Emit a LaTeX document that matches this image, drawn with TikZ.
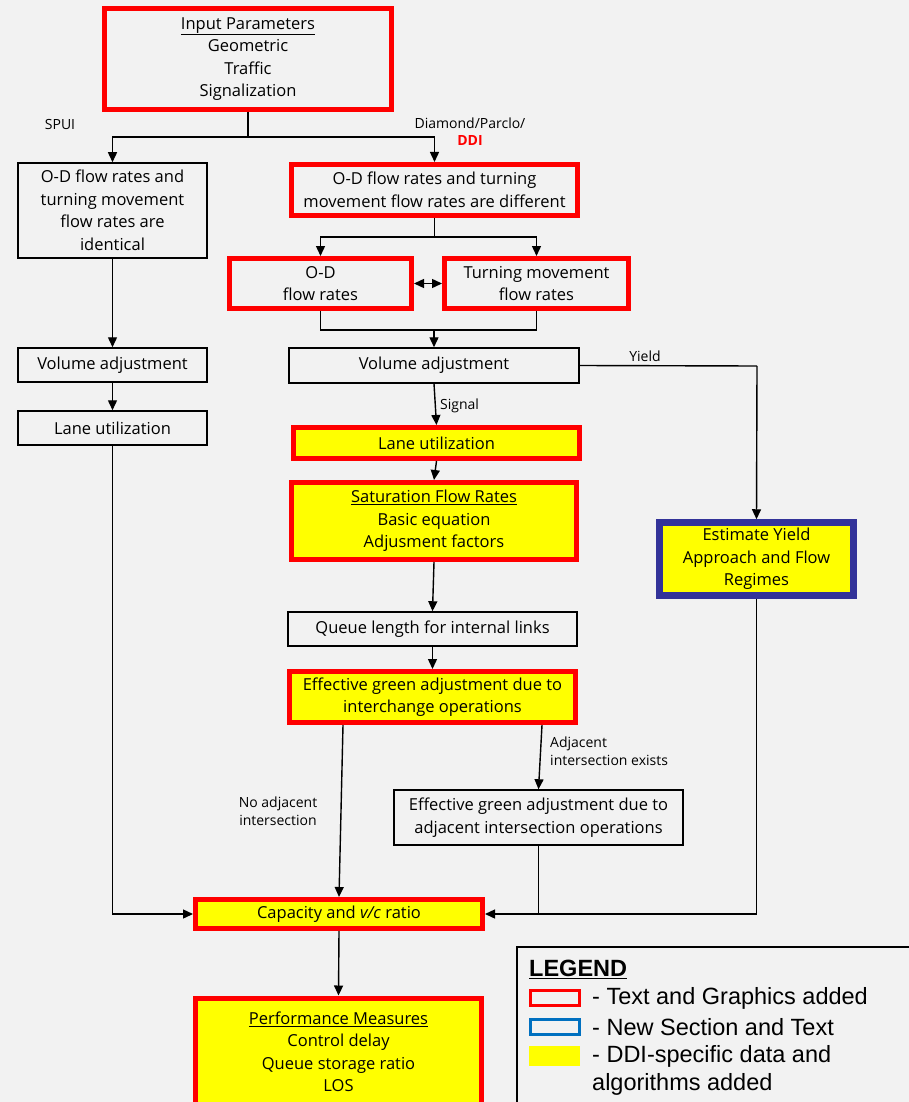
\documentclass[tikz,border=0pt]{standalone}
\usepackage{fontspec}
\setmainfont{Open Sans}
\newfontfamily\arialf{Liberation Sans}
\usetikzlibrary{arrows.meta,calc}
\definecolor{bg}{HTML}{F2F2F2}
\definecolor{ddired}{HTML}{FF0000}
\definecolor{ddiyel}{HTML}{FFFF00}
\definecolor{ddiblue}{HTML}{333399}
\definecolor{legblue}{HTML}{0070C0}
\begin{document}
\begin{tikzpicture}[x=1pt,y=-1pt,
  txt/.style={font=\fontsize{16.5}{22.5}\selectfont, align=center, inner sep=0pt},
  plainbox/.style={txt, draw=black, line width=1.5pt},
  redbox/.style={txt, draw=ddired, line width=5pt},
  yelbox/.style={redbox, fill=ddiyel},
  bluebox/.style={txt, draw=ddiblue, line width=6.5pt, fill=ddiyel},
  lbl/.style={font=\fontsize{14}{18}\selectfont, align=center, inner sep=0pt},
  conn/.style={line width=1.4pt, draw=black},
  arr/.style={conn, -{Triangle[width=9pt,length=10pt]}},
  darr/.style={conn, {Triangle[width=9pt,length=10pt]}-{Triangle[width=9pt,length=10pt]}},
  legtxt/.style={font=\arialf\fontsize{23.5}{29}\selectfont, anchor=west, inner sep=0pt}
]
\fill[bg] (0,0) rectangle (909,1102);
\useasboundingbox (0,0) rectangle (909,1102);

% boxes
\node[redbox, minimum width=287pt, minimum height=101pt] (inp) at (248,59)
  {\underline{Input Parameters}\\Geometric\\Traffic\\Signalization};
\node[plainbox, minimum width=189pt, minimum height=95pt] (odl) at (112.5,210.5)
  {O-D flow rates and\\turning movement\\flow rates are\\identical};
\node[redbox, minimum width=286pt, minimum height=51pt] (odr) at (434.5,190)
  {O-D flow rates and turning\\movement flow rates are different};
\node[redbox, minimum width=182pt, minimum height=50pt] (od) at (320.5,283.5)
  {O-D\\flow rates};
\node[redbox, minimum width=184pt, minimum height=50pt] (tm) at (536.5,283.5)
  {Turning movement\\flow rates};
\node[plainbox, minimum width=290pt, minimum height=35pt] (vol) at (434,365.5)
  {Volume adjustment};
\node[yelbox, minimum width=286pt, minimum height=31pt] (lane) at (436.5,443)
  {Lane utilization};
\node[yelbox, minimum width=285pt, minimum height=77pt] (sat) at (434,521)
  {\underline{Saturation Flow Rates}\\Basic equation\\Adjusment factors};
\node[plainbox, minimum width=289pt, minimum height=34pt] (queue) at (432.5,629)
  {Queue length for internal links};
\node[yelbox, minimum width=286pt, minimum height=51pt] (eff) at (432.5,697)
  {Effective green adjustment due to\\interchange operations};
\node[plainbox, minimum width=289pt, minimum height=55pt] (effadj) at (538.5,817.5)
  {Effective green adjustment due to\\adjacent intersection operations};
\node[yelbox, minimum width=287pt, minimum height=29pt] (cap) at (339,914)
  {Capacity and \textit{v/c} ratio};
\node[yelbox, minimum width=286pt, minimum height=108pt] (perf) at (338.5,1052)
  {\underline{Performance Measures}\\Control delay\\Queue storage ratio\\LOS};
\node[plainbox, minimum width=189pt, minimum height=34pt] (voll) at (112.5,365)
  {Volume adjustment};
\node[plainbox, minimum width=189pt, minimum height=34pt] (lanel) at (112.5,428)
  {Lane utilization};
\node[bluebox, minimum width=194pt, minimum height=73pt] (yield) at (756.5,559)
  {Estimate Yield\\Approach and Flow\\Regimes};

% connectors
\coordinate (j1) at (248,137);
\draw[conn] (inp.south) -- (j1);
\draw[arr] (j1) -| (odl.north);
\draw[arr] (j1) -| (odr.north);
\coordinate (j2) at (434.5,237);
\draw[conn] (odr.south) -- (j2);
\draw[arr] (j2) -| (od.north);
\draw[arr] (j2) -| (tm.north);
\draw[darr] (od.east) -- (tm.west);
\coordinate (j3) at (434,330);
\draw[conn] (od.south) |- (j3) -| (tm.south);
\draw[arr] (j3) -- (vol.north);
\coordinate (j4) at (757,366);
\draw[conn] (vol.east) -- (j4);
\draw[arr] (j4) -- (yield.north);
\draw[arr] (vol.south) -- (lane.north);
\draw[arr] (lane.south) -- (sat.north);
\draw[arr] (sat.south) -- (queue.north);
\draw[arr] (queue.south) -- (eff.north);
\draw[arr] ([xshift=-89.5pt]eff.south) -- (cap.north);
\draw[arr] ([xshift=109.5pt]eff.south) -- (effadj.north);
\draw[arr] (yield.south) |- (cap.east);
\draw[conn] (effadj.south) -- (effadj.south |- cap.east);
\draw[arr] (odl.south) -- (voll.north);
\draw[arr] (voll.south) -- (lanel.north);
\draw[arr] (lanel.south) |- (cap.west);
\draw[arr] (cap.south) -- (perf.north);

% labels
\node[lbl] (spui) at (60,125) {SPUI};
\node[lbl] (dia) at (470,123) {Diamond/Parclo/};
\node[lbl, text=ddired, font=\bfseries\fontsize{14}{18}\selectfont] (ddi) at (470,141) {DDI};
\node[lbl, anchor=west] (sig) at (440,406) {Signal};
\node[lbl] (yl) at (645,356) {Yield};
\node[lbl] (noadj) at (278,811) {No adjacent\\intersection};
\node[lbl, align=left, anchor=west] (adj) at (550,751) {Adjacent\\intersection exists};

% legend
\draw[line width=2pt] (517,947) rectangle (915,1112);
\node[legtxt, font=\arialf\bfseries\fontsize{23.5}{29}\selectfont] (legh) at (529,969) {\underline{LEGEND}};
\draw[ddired, line width=3pt] (530.5,990.5) rectangle (579,1005);
\draw[legblue, line width=3pt] (530.5,1019.5) rectangle (579,1034);
\fill[ddiyel] (529,1046) rectangle (580,1066);
\node[legtxt] (l1) at (592,998) {- Text and Graphics added};
\node[legtxt] (l2) at (592,1027) {- New Section and Text};
\node[legtxt] (l3) at (592,1056) {- DDI-specific data and};
\node[legtxt] (l4) at (592,1084) {algorithms added};
\end{tikzpicture}
\end{document}
